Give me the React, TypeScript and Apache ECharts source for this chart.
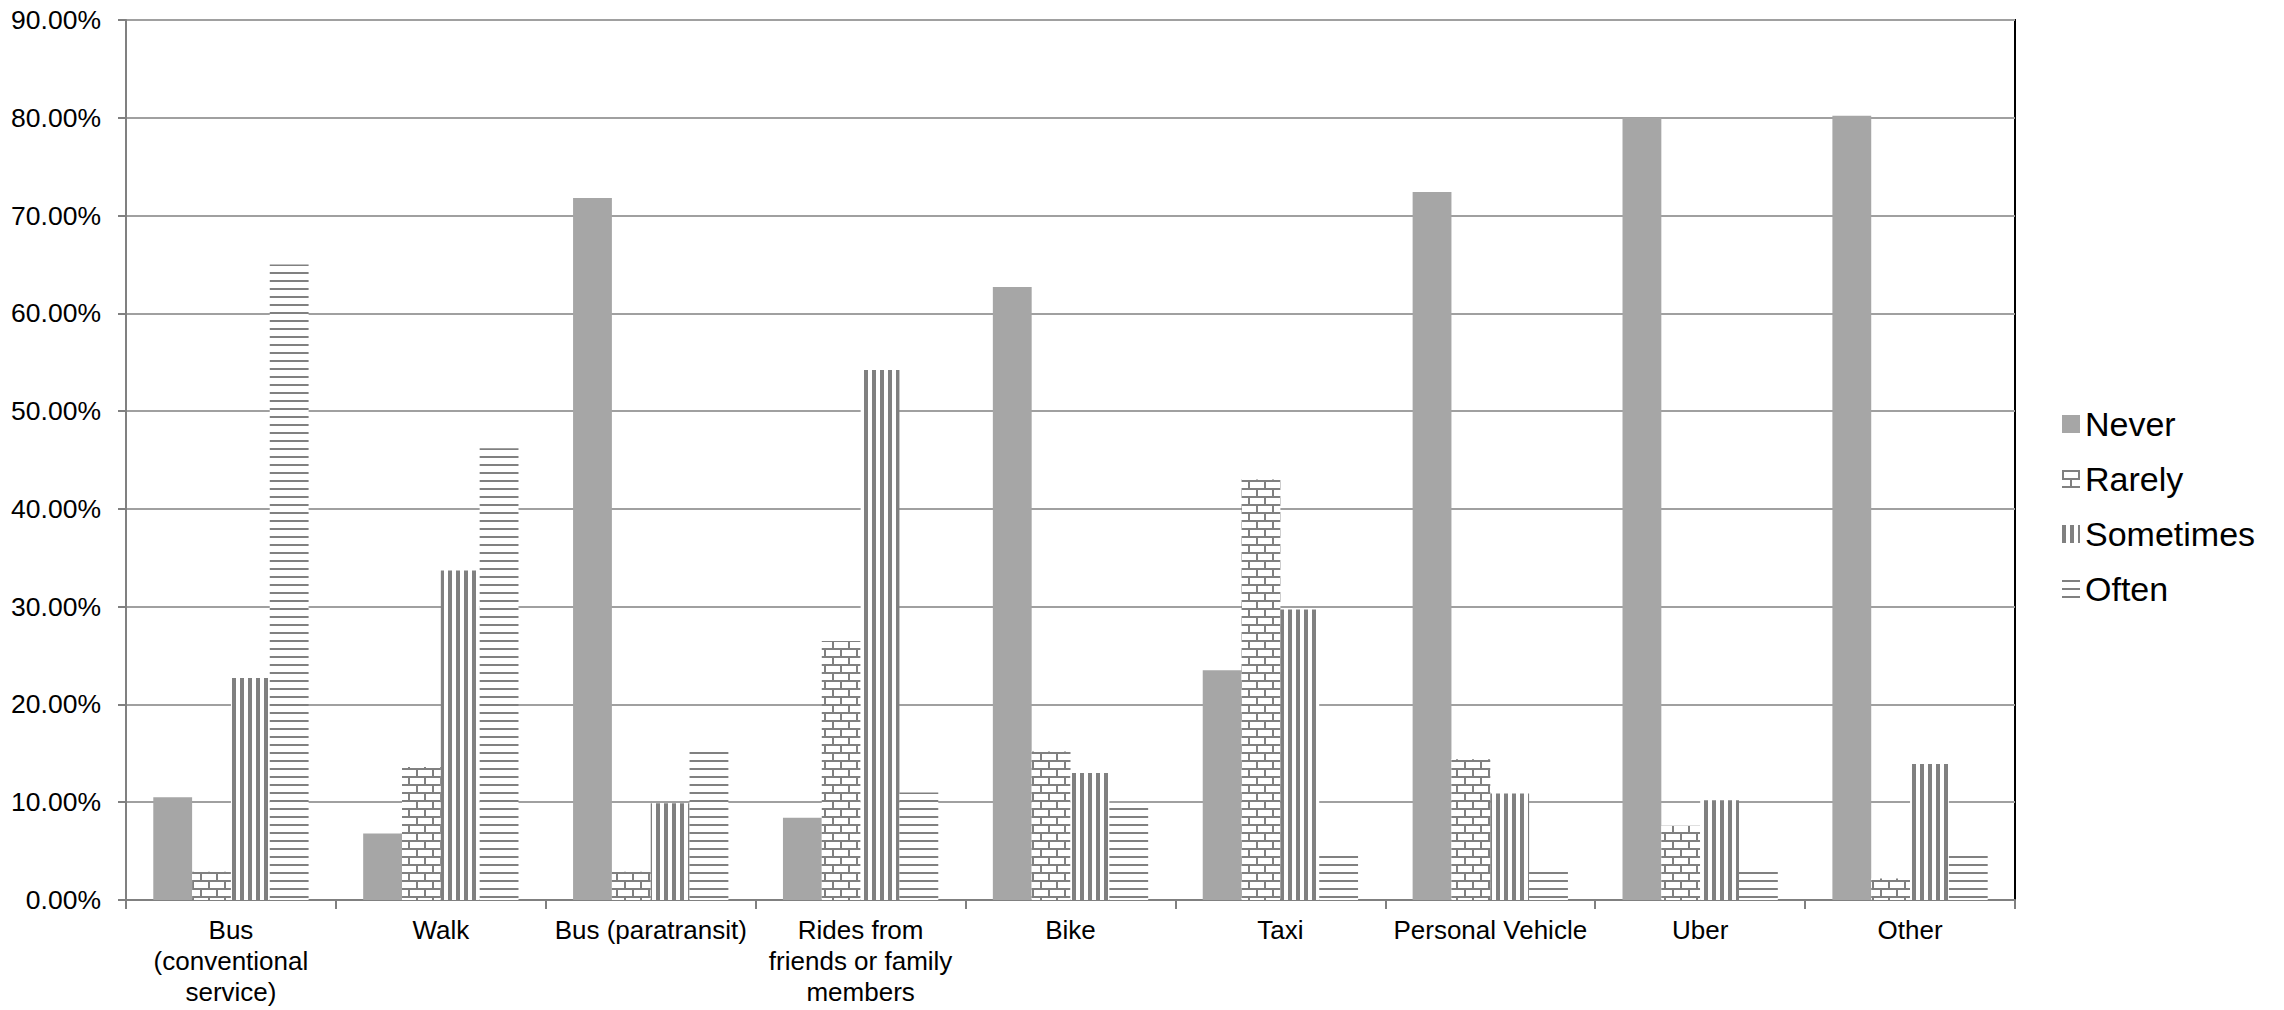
import React, { useEffect, useRef } from "react";
import * as echarts from "echarts";

const categories = [
  "Bus\n(conventional\nservice)",
  "Walk",
  "Bus (paratransit)",
  "Rides from\nfriends or family\nmembers",
  "Bike",
  "Taxi",
  "Personal Vehicle",
  "Uber",
  "Other",
];
const seriesNames = ["Never", "Rarely", "Sometimes", "Often"];
const never = [10.5, 6.8, 71.8, 8.4, 62.7, 23.5, 72.4, 80.0, 80.2];
const rarely = [2.9, 13.6, 2.9, 26.5, 15.2, 43.0, 14.4, 7.6, 2.2];
const sometimes = [22.7, 33.7, 9.9, 54.2, 13.0, 29.7, 10.9, 10.2, 13.9];
const often = [65.0, 46.2, 15.2, 11.0, 9.5, 4.5, 2.9, 2.9, 4.5];
const yMin = 0;
const yMax = 90;
const yInterval = 10;

const FONT = "'Liberation Sans', Arial, sans-serif";
const PAT = "#808080";

function makeCanvas(w: number, h: number, draw: (c: CanvasRenderingContext2D) => void) {
  const cv = document.createElement("canvas");
  cv.width = w;
  cv.height = h;
  const ctx = cv.getContext("2d")!;
  ctx.fillStyle = "#ffffff";
  ctx.fillRect(0, 0, w, h);
  ctx.fillStyle = PAT;
  draw(ctx);
  return cv;
}

export default function App() {
  const ref = useRef<HTMLDivElement>(null);
  useEffect(() => {
    document.body.style.margin = "0";
    const chart = echarts.init(ref.current!, null, { renderer: "svg" });

    const brick = makeCanvas(16, 16, (c) => {
      c.fillRect(0, 0, 16, 2);
      c.fillRect(0, 8, 16, 2);
      c.fillRect(0, 0, 2, 8);
      c.fillRect(8, 8, 2, 8);
    });
    const vstripe = makeCanvas(8, 8, (c) => {
      c.fillRect(0, 0, 4, 8);
    });
    const hstripe = makeCanvas(8, 8, (c) => {
      c.fillRect(0, 0, 8, 2);
    });

    const fills: any[] = [
      "#a6a6a6",
      { image: brick, repeat: "repeat" },
      { image: vstripe, repeat: "repeat" },
      { image: hstripe, repeat: "repeat" },
    ];
    const datas = [never, rarely, sometimes, often];

    chart.setOption({
      animation: false,
      textStyle: { fontFamily: FONT },
      grid: {
        left: 126,
        right: 269,
        top: 20,
        bottom: 110,
        show: true,
        borderColor: "#000",
        borderWidth: 2,
        backgroundColor: "transparent",
      },
      legend: {
        orient: "vertical",
        left: 2057,
        top: 402,
        itemWidth: 18,
        itemHeight: 18,
        itemGap: 21,
        icon: "rect",
        textStyle: { fontSize: 34, color: "#000", fontFamily: FONT, padding: [0, 0, 0, 0] },
        data: seriesNames,
      },
      xAxis: {
        type: "category",
        data: categories,
        axisLine: { lineStyle: { color: "#808080", width: 2 } },
        axisTick: { show: true, length: 9, lineStyle: { color: "#808080", width: 2 } },
        axisLabel: {
          color: "#000",
          fontSize: 26,
          lineHeight: 31,
          margin: 14,
          interval: 0,
          fontFamily: FONT,
        },
      },
      yAxis: {
        type: "value",
        min: yMin,
        max: yMax,
        interval: yInterval,
        axisLine: { show: true, lineStyle: { color: "#808080", width: 2 } },
        axisTick: { show: true, length: 8, lineStyle: { color: "#808080", width: 2 } },
        splitLine: { lineStyle: { color: "#a0a0a0", width: 2 } },
        axisLabel: {
          color: "#000",
          fontSize: 26.5,
          margin: 25,
          fontFamily: FONT,
          formatter: (v: number) => v.toFixed(2) + "%",
        },
      },
      series: seriesNames.map((name, i) => ({
        name,
        type: "bar",
        data: datas[i],
        barGap: "0%",
        barCategoryGap: "26%",
        itemStyle: { color: fills[i] },
      })),
    });
    return () => chart.dispose();
  }, []);
  return <div ref={ref} style={{ width: 2284, height: 1010 }} />;
}
